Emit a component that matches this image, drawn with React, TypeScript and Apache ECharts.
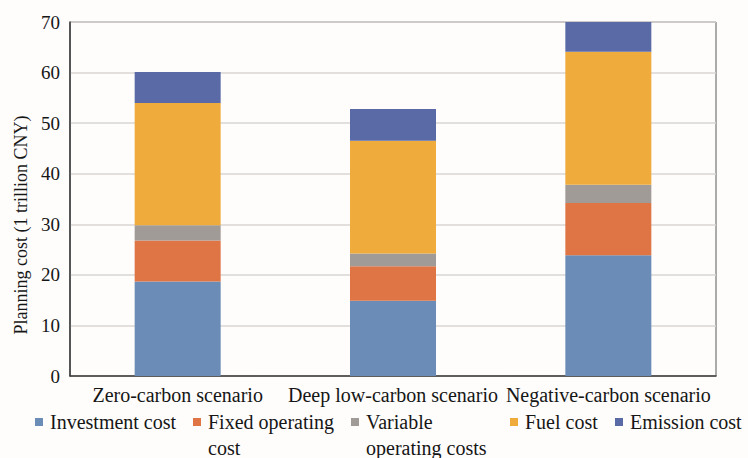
import React, { useEffect, useRef } from "react";
import * as echarts from "echarts";

// Scenario categories on the x axis
const scenarios = ["Zero-carbon scenario", "Deep low-carbon scenario", "Negative-carbon scenario"];

// Cost components, 1 trillion CNY, stacked bottom to top
const investmentCost = [18.7, 14.9, 23.9];
const fixedOperatingCost = [8.1, 6.8, 10.3];
const variableOperatingCosts = [3.0, 2.5, 3.6];
const fuelCost = [24.2, 22.3, 26.3];
const emissionCost = [6.1, 6.3, 5.9];

const seriesNames = [
  "Investment cost",
  "Fixed operating cost",
  "Variable operating costs",
  "Fuel cost",
  "Emission cost",
];
// Legend text split over two lines where the legend column wraps
const legendFirstLines = ["Investment cost", "Fixed operating", "Variable", "Fuel cost", "Emission cost"];
const legendSecondLines = ["", "cost", "operating costs", "", ""];
const colors = ["#6a8cb6", "#df7544", "#a19b97", "#efac3c", "#5a6aa7"];

const yTicks = { min: 0, max: 70, interval: 10 };

const FONT = '"Liberation Serif", "Times New Roman", serif';
const TEXT = "#161616";

export default function App() {
  const ref = useRef<HTMLDivElement>(null);

  useEffect(() => {
    if (!ref.current) return;
    const chart = echarts.init(ref.current, null, { renderer: "svg" });
    const values = [investmentCost, fixedOperatingCost, variableOperatingCosts, fuelCost, emissionCost];

    // legend column positions (icon left edge)
    const legendLeft = [35, 193, 351, 510, 615];
    const legendTop = 412;

    chart.setOption({
      animation: false,
      backgroundColor: "#fefdfc",
      textStyle: { fontFamily: FONT, color: TEXT },
      grid: {
        left: 70,
        right: 32,
        top: 22,
        bottom: 82,
        show: true,
        borderColor: "#5a5a5a",
        borderWidth: 1,
      },
      legend: seriesNames.map((name, i) => ({
        data: [name],
        left: legendLeft[i],
        top: legendTop,
        itemWidth: 8,
        itemHeight: 8,
        itemGap: 0,
        padding: 0,
        icon: "rect",
        selectedMode: false,
        formatter: () => legendFirstLines[i],
        textStyle: { fontFamily: FONT, fontSize: 20, color: TEXT, padding: [0, 0, 0, 2] },
      })),
      graphic: legendSecondLines
        .map((t, i) =>
          t
            ? {
                type: "text",
                left: legendLeft[i] + 15,
                top: legendTop + 26,
                style: { text: t, font: `20px ${FONT}`, fill: TEXT },
              }
            : null
        )
        .filter(Boolean),
      xAxis: {
        type: "category",
        data: scenarios,
        axisLine: { lineStyle: { color: "#3a3a3a", width: 1.5 } },
        axisTick: { show: false },
        axisLabel: { fontFamily: FONT, fontSize: 20, color: TEXT, margin: 9, interval: 0 },
      },
      yAxis: {
        type: "value",
        min: yTicks.min,
        max: yTicks.max,
        interval: yTicks.interval,
        name: "Planning cost (1 trillion CNY)",
        nameLocation: "middle",
        nameGap: 33,
        nameTextStyle: { fontFamily: FONT, fontSize: 18, color: TEXT, padding: [0, 52, 0, 0] },
        axisLine: { show: true, lineStyle: { color: "#3a3a3a", width: 1.5 } },
        axisTick: { show: false },
        axisLabel: { fontFamily: FONT, fontSize: 19, color: TEXT, margin: 10 },
        splitLine: { lineStyle: { color: "#d8d5d3", width: 1.5 } },
      },
      series: seriesNames.map((name, i) => ({
        name,
        type: "bar",
        stack: "cost",
        barWidth: 86,
        data: values[i],
        itemStyle: { color: colors[i] },
      })),
    });

    return () => chart.dispose();
  }, []);

  return (
    <div
      ref={ref}
      style={{ position: "absolute", left: 0, top: 0, width: 748, height: 458 }}
    />
  );
}
